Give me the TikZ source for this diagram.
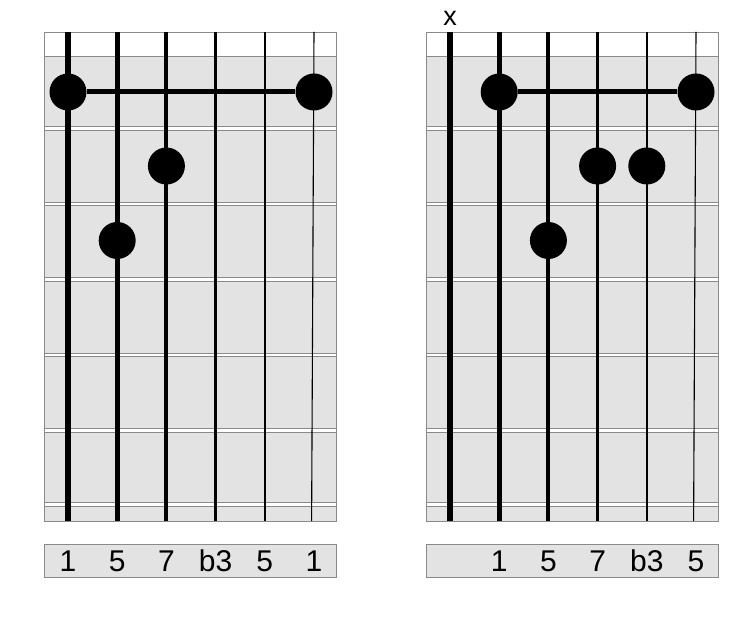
\documentclass[tikz,border=0pt]{standalone}
\usepackage{fontspec}
\setmainfont{Liberation Sans}
\definecolor{boardgrey}{HTML}{E3E3E3}
\definecolor{edgegrey}{HTML}{8A8A8A}
\tikzset{
  board/.style={fill=boardgrey,draw=edgegrey,line width=0.9pt},
  nutstrip/.style={fill=white,draw=edgegrey,line width=0.9pt},
  fretbar/.style={fill=white,draw=edgegrey,line width=0.7pt},
  stringline/.style={draw=black},
  fingerdot/.style={circle,fill=black,minimum size=37pt,inner sep=0pt},
  barre/.style={draw=black,line width=5pt},
  lbl/.style={font=\fontsize{30}{32}\selectfont,anchor=base,inner sep=0pt},
  mutelbl/.style={font=\fontsize{27}{29}\selectfont,anchor=base,inner sep=0pt},
  lblbox/.style={fill=boardgrey,draw=edgegrey,line width=0.9pt}
}
\newcommand{\drawboard}[1]{%
  \fill[board] (#1,32) rectangle ++(292,489);
  \draw[nutstrip] (#1,32) rectangle ++(292,24);
  \foreach \fy in {128.5,204,279.5,355,430.5,504.5}{
    \draw[fretbar] (#1,\fy-1.7) rectangle ++(292,3.4);
  }
  \draw[stringline,line width=5.6pt] (#1+24,32) -- (#1+24,521);
  \draw[stringline,line width=4.8pt] (#1+73.2,32) -- (#1+73.2,521);
  \draw[stringline,line width=4pt] (#1+122.4,32) -- (#1+122.4,521);
  \draw[stringline,line width=3pt] (#1+171.6,32) -- (#1+171.6,521);
  \draw[stringline,line width=2.2pt] (#1+220.8,32) -- (#1+220.8,521);
  \draw[stringline,line width=1.1pt] (#1+270,32) -- (#1+267.6,521);
  \draw[lblbox] (#1,544) rectangle ++(292,33.3);
}
\begin{document}
\begin{tikzpicture}[x=1pt,y=-1pt]
\useasboundingbox (0,0) rectangle (750,620);
% left board
\drawboard{44}
\node[fingerdot] (L1) at (68,92) {};
\node[fingerdot] (L2) at (314,92) {};
\draw[barre] (L1) -- (L2);
\node[fingerdot] (L3) at (166.4,166) {};
\node[fingerdot] (L4) at (117.2,240.5) {};
\node[lbl] (la) at (68,571.7) {1};
\node[lbl] (lb) at (117.2,571.7) {5};
\node[lbl] (lc) at (166.4,571.7) {7};
\node[lbl] (ld) at (215.6,571.7) {b3};
\node[lbl] (le) at (264.8,571.7) {5};
\node[lbl] (lf) at (314,571.7) {1};
% right board
\drawboard{426}
\node[mutelbl] (rx) at (450,26) {x};
\node[fingerdot] (R1) at (499.2,92) {};
\node[fingerdot] (R2) at (696,92) {};
\draw[barre] (R1) -- (R2);
\node[fingerdot] (R3) at (597.6,166) {};
\node[fingerdot] (R4) at (646.8,166) {};
\node[fingerdot] (R5) at (548.4,240.5) {};
\node[lbl] (ra) at (499.2,571.7) {1};
\node[lbl] (rb) at (548.4,571.7) {5};
\node[lbl] (rc) at (597.6,571.7) {7};
\node[lbl] (rd) at (646.8,571.7) {b3};
\node[lbl] (re) at (696,571.7) {5};
\end{tikzpicture}
\end{document}
